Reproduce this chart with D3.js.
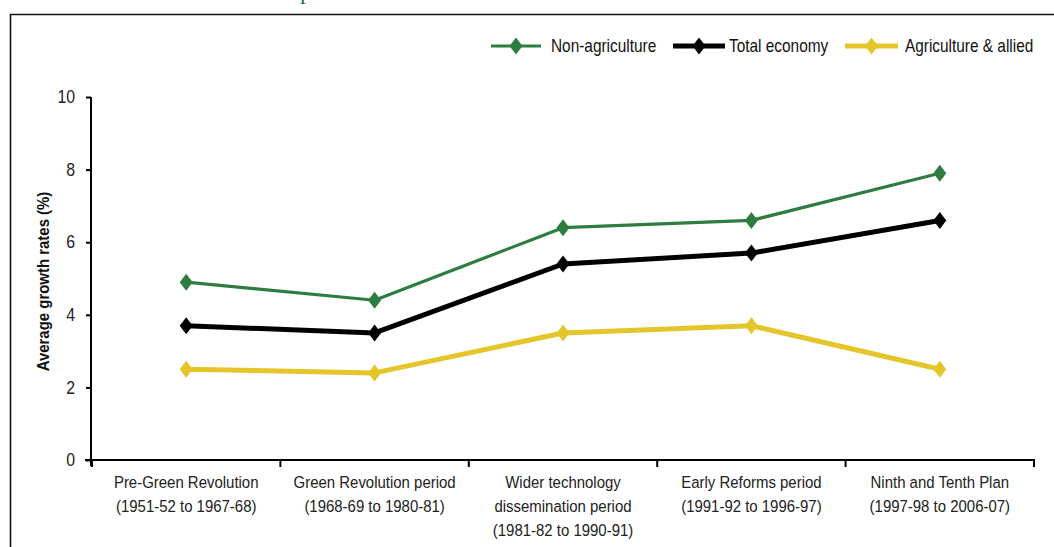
<!DOCTYPE html>
<html>
<head>
<meta charset="utf-8">
<script src="https://cdn.jsdelivr.net/npm/d3@7/dist/d3.min.js"></script>
<style>
  html, body { margin: 0; padding: 0; background: #fff; }
  svg { display: block; font-family: "Liberation Sans", Arial, sans-serif; }
</style>
</head>
<body>
<svg id="chart" width="1054" height="547"></svg>
<script>
// Average growth rates by period (%)
const periods = [
  ["Pre-Green Revolution", "(1951-52 to 1967-68)"],
  ["Green Revolution period", "(1968-69 to 1980-81)"],
  ["Wider technology", "dissemination period", "(1981-82 to 1990-91)"],
  ["Early Reforms period", "(1991-92 to 1996-97)"],
  ["Ninth and Tenth Plan", "(1997-98 to 2006-07)"]
];
const nonAgriculture = [4.9, 4.4, 6.4, 6.6, 7.9];
const totalEconomy = [3.7, 3.5, 5.4, 5.7, 6.6];
const agricultureAllied = [2.5, 2.4, 3.5, 3.7, 2.5];
const yTicks = [0, 2, 4, 6, 8, 10];

const series = [
  { name: "Non-agriculture", values: nonAgriculture, color: "#2e7d40", width: 3.2 },
  { name: "Total economy", values: totalEconomy, color: "#000000", width: 5 },
  { name: "Agriculture & allied", values: agricultureAllied, color: "#e4c52a", width: 5 }
];

// narrow sans look: regular glyphs squeezed horizontally
const SQ = 0.88;

const svg = d3.select("#chart");

// frame around the figure (open at right and bottom edges)
svg.append("path")
  .attr("d", "M10.5,547 V14.5 H1054")
  .attr("fill", "none").attr("stroke", "#111").attr("stroke-width", 1.6);

// descender of the heading above the frame
svg.append("text")
  .attr("x", 300).attr("y", -1)
  .attr("font-family", "Liberation Serif, serif")
  .attr("font-size", 24).attr("fill", "#2e6b4e")
  .text("p");

const x = d3.scaleBand().domain(d3.range(periods.length)).range([92, 1034]);
const y = d3.scaleLinear().domain([0, 10]).range([460, 97]);

// y axis
const yAxis = svg.append("g").attr("transform", "translate(91,0)")
  .call(d3.axisLeft(y).tickValues(yTicks).tickSize(5).tickPadding(8).tickFormat(d3.format("d")));
yAxis.select(".domain").attr("d", "M0," + y(10) + "V466").attr("stroke", "#000").attr("stroke-width", 2);
yAxis.selectAll(".tick line").attr("stroke", "#000").attr("stroke-width", 2);
yAxis.selectAll(".tick text")
  .attr("x", null)
  .attr("transform", "translate(-16,0) scale(" + SQ + ",1)")
  .attr("font-size", 18).attr("fill", "#222")
  .attr("font-family", "Liberation Sans, Arial, sans-serif");

// x axis
const xAxisG = svg.append("g").attr("transform", "translate(0,460)");
xAxisG.append("line").attr("x1", 85).attr("x2", 1035).attr("stroke", "#000").attr("stroke-width", 2);
const boundaries = d3.range(periods.length + 1).map(i => i < periods.length ? x(i) : x(periods.length - 1) + x.bandwidth());
xAxisG.selectAll("line.tk").data(boundaries).join("line").attr("class", "tk")
  .attr("x1", d => d).attr("x2", d => d).attr("y1", 0).attr("y2", 7)
  .attr("stroke", "#000").attr("stroke-width", 2);
const xl = xAxisG.selectAll("text.cat").data(periods).join("text").attr("class", "cat")
  .attr("transform", (d, i) => "translate(" + (x(i) + x.bandwidth() / 2) + ",0) scale(" + SQ + ",1)")
  .attr("text-anchor", "middle").attr("font-size", 17).attr("fill", "#222");
xl.selectAll("tspan").data(d => d).join("tspan")
  .attr("x", 0)
  .attr("y", (d, i) => 28 + i * 24)
  .text(d => d);

// y axis title
svg.append("text")
  .attr("transform", "translate(49," + (y(5) + 3) + ") rotate(-90) scale(" + SQ + ",1)")
  .attr("text-anchor", "middle").attr("font-size", 17).attr("font-weight", "bold").attr("fill", "#111")
  .text("Average growth rates (%)");

// diamond marker, 13 wide by 17 tall
const diamondShape = {
  draw(ctx, size) {
    const hw = Math.sqrt(size) * 0.5, hh = hw * 17 / 13;
    ctx.moveTo(0, -hh); ctx.lineTo(hw, 0); ctx.lineTo(0, hh); ctx.lineTo(-hw, 0); ctx.closePath();
  }
};
const diamond = d3.symbol().type(diamondShape).size(169);

const cx = i => x(i) + x.bandwidth() / 2;
const line = d3.line().x((d, i) => cx(i)).y(d => y(d));

// lines: draw agriculture first so others sit on top
[series[2], series[1], series[0]].forEach(s => {
  const g = svg.append("g");
  g.append("path").datum(s.values).attr("d", line)
    .attr("fill", "none").attr("stroke", s.color).attr("stroke-width", s.width)
    .attr("stroke-linejoin", "round");
  g.selectAll("path.mk").data(s.values).join("path").attr("class", "mk")
    .attr("d", diamond)
    .attr("transform", (d, i) => "translate(" + cx(i) + "," + y(d) + ")")
    .attr("fill", s.color);
});

// legend
const legendItems = [
  { s: series[0], x0: 491, x1: 541, tx: 551 },
  { s: series[1], x0: 673, x1: 725, tx: 729 },
  { s: series[2], x0: 845, x1: 898, tx: 905 }
];
const lg = svg.append("g");
legendItems.forEach(it => {
  lg.append("line").attr("x1", it.x0).attr("x2", it.x1).attr("y1", 46).attr("y2", 46)
    .attr("stroke", it.s.color).attr("stroke-width", it.s.width);
  lg.append("path").attr("d", diamond)
    .attr("transform", "translate(" + ((it.x0 + it.x1) / 2) + ",46)")
    .attr("fill", it.s.color);
  lg.append("text")
    .attr("transform", "translate(" + it.tx + ",52) scale(" + SQ + ",1)")
    .attr("font-size", 17.5).attr("fill", "#111")
    .text(it.s.name);
});
</script>
</body>
</html>
